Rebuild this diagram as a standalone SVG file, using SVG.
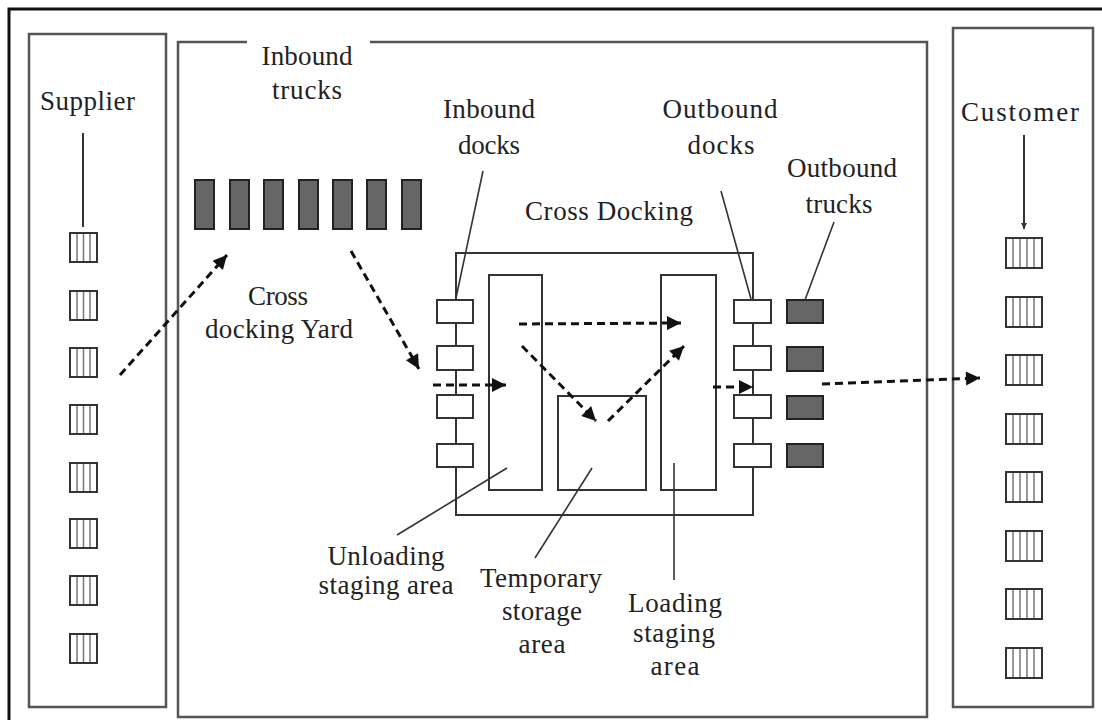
<svg xmlns="http://www.w3.org/2000/svg" width="1102" height="720" viewBox="0 0 1102 720">
<style>
.frame{fill:none;stroke:#111;stroke-width:3}
.big{fill:none;stroke:#555;stroke-width:2.5}
.lbl{font-family:"Liberation Serif","Times New Roman",serif;font-size:27px;fill:#222;text-anchor:middle}
.pkg{fill:#fff;stroke:#333;stroke-width:2}
.pin{stroke:#777;stroke-width:1.5}
.truck{fill:#666;stroke:#222;stroke-width:2}
.box{fill:#fff;stroke:#333;stroke-width:2}
.lead{fill:none;stroke:#333;stroke-width:1.6}
.flow{fill:none;stroke:#111;stroke-width:3;stroke-dasharray:8 5}
</style>
<defs>
<marker id="ah" viewBox="0 0 10 10" refX="10" refY="5" markerWidth="16" markerHeight="14" markerUnits="userSpaceOnUse" orient="auto"><path d="M0,0 L10,5 L0,10 z" fill="#111"/></marker>
<marker id="ahs" viewBox="0 0 10 10" refX="10" refY="5" markerWidth="7" markerHeight="6" markerUnits="userSpaceOnUse" orient="auto"><path d="M0,0 L10,5 L0,10 z" fill="#333"/></marker>
<g id="spkg"><rect class="pkg" x="0" y="0" width="27" height="29"/><line class="pin" x1="7" y1="1" x2="7" y2="28"/><line class="pin" x1="13.5" y1="1" x2="13.5" y2="28"/><line class="pin" x1="20" y1="1" x2="20" y2="28"/></g>
<g id="cpkg"><rect class="pkg" x="0" y="0" width="36" height="30"/><line class="pin" x1="7" y1="1" x2="7" y2="29"/><line class="pin" x1="14" y1="1" x2="14" y2="29"/><line class="pin" x1="21" y1="1" x2="21" y2="29"/><line class="pin" x1="28" y1="1" x2="28" y2="29"/></g>
</defs>
<rect width="1102" height="720" fill="#fff"/>
<path class="frame" d="M9,720 V9 H1102"/>

<g id="supplier">
<rect class="big" x="29" y="34" width="137" height="673"/>
<text class="lbl" x="87.5" y="110" textLength="95">Supplier</text>
<line x1="83" y1="133" x2="83" y2="227" stroke="#333" stroke-width="2"/>
<use href="#spkg" x="70" y="233"/>
<use href="#spkg" x="70" y="291"/>
<use href="#spkg" x="70" y="348"/>
<use href="#spkg" x="70" y="405"/>
<use href="#spkg" x="70" y="463"/>
<use href="#spkg" x="70" y="519"/>
<use href="#spkg" x="70" y="576"/>
<use href="#spkg" x="70" y="634"/>
</g>

<g id="yard">
<path class="big" d="M247,42 H178 V717 H927 V42 H370"/>
<text class="lbl" x="307" y="65" textLength="91">Inbound</text>
<text class="lbl" x="307" y="99" textLength="70">trucks</text>
<text class="lbl" x="278" y="305" textLength="60">Cross</text>
<text class="lbl" x="279" y="338" textLength="148">docking Yard</text>
</g>

<g id="inbound-trucks">
<rect class="truck" x="195" y="180" width="19" height="49"/>
<rect class="truck" x="230" y="180" width="19" height="49"/>
<rect class="truck" x="264" y="180" width="19" height="49"/>
<rect class="truck" x="299" y="180" width="19" height="49"/>
<rect class="truck" x="333" y="180" width="19" height="49"/>
<rect class="truck" x="367" y="180" width="19" height="49"/>
<rect class="truck" x="402" y="180" width="19" height="49"/>
</g>

<g id="cross-docking">
<rect class="box" x="456" y="253" width="297" height="262"/>
<text class="lbl" x="609" y="220" textLength="168">Cross Docking</text>
</g>

<g id="inbound-docks">
<rect class="box" x="437" y="300" width="36" height="23"/>
<rect class="box" x="437" y="346" width="36" height="24"/>
<rect class="box" x="437" y="395" width="36" height="23"/>
<rect class="box" x="437" y="444" width="36" height="23"/>
<text class="lbl" x="489" y="118" textLength="92">Inbound</text>
<text class="lbl" x="489" y="154" textLength="62">docks</text>
</g>

<g id="outbound-docks">
<rect class="box" x="734" y="300" width="37" height="23"/>
<rect class="box" x="734" y="346" width="37" height="24"/>
<rect class="box" x="734" y="395" width="37" height="23"/>
<rect class="box" x="734" y="444" width="37" height="23"/>
<text class="lbl" x="720" y="118" textLength="115">Outbound</text>
<text class="lbl" x="721" y="154" textLength="67">docks</text>
</g>

<g id="outbound-trucks">
<rect class="truck" x="787" y="300" width="36" height="23"/>
<rect class="truck" x="787" y="347" width="36" height="24"/>
<rect class="truck" x="787" y="396" width="36" height="23"/>
<rect class="truck" x="787" y="444" width="36" height="23"/>
<text class="lbl" x="842" y="177" textLength="110">Outbound</text>
<text class="lbl" x="839" y="213" textLength="67">trucks</text>
</g>

<g id="unloading-area">
<rect class="box" x="489" y="275" width="53" height="215"/>
<text class="lbl" x="386" y="565" textLength="117">Unloading</text>
<text class="lbl" x="386" y="594" textLength="135">staging area</text>
</g>

<g id="temporary-storage">
<rect class="box" x="558" y="396" width="88" height="94"/>
<text class="lbl" x="541" y="587" textLength="122">Temporary</text>
<text class="lbl" x="542" y="620" textLength="80">storage</text>
<text class="lbl" x="542" y="653" textLength="47">area</text>
</g>

<g id="loading-area">
<rect class="box" x="661" y="275" width="55" height="215"/>
<text class="lbl" x="675" y="612" textLength="94">Loading</text>
<text class="lbl" x="674" y="642" textLength="82">staging</text>
<text class="lbl" x="675" y="675" textLength="49">area</text>
</g>

<g id="customer">
<rect class="big" x="953" y="28" width="140" height="679"/>
<text class="lbl" x="1020" y="121" textLength="118">Customer</text>
<use href="#cpkg" x="1006" y="238"/>
<use href="#cpkg" x="1006" y="297"/>
<use href="#cpkg" x="1006" y="355"/>
<use href="#cpkg" x="1006" y="414"/>
<use href="#cpkg" x="1006" y="472"/>
<use href="#cpkg" x="1006" y="531"/>
<use href="#cpkg" x="1006" y="589"/>
<use href="#cpkg" x="1006" y="648"/>
</g>

<g id="connectors">
<line class="lead" x1="483" y1="171" x2="456" y2="298"/>
<line class="lead" x1="721" y1="191" x2="751" y2="299"/>
<line class="lead" x1="834" y1="222" x2="805" y2="300"/>
<line class="lead" x1="507" y1="468" x2="397" y2="535"/>
<line class="lead" x1="592" y1="468" x2="535" y2="558"/>
<line class="lead" x1="674" y1="463" x2="674" y2="580" stroke-width="2"/>
<line x1="1024" y1="135" x2="1024" y2="229" stroke="#333" stroke-width="2" marker-end="url(#ahs)"/>
<line class="flow" x1="120" y1="375" x2="227" y2="255" marker-end="url(#ah)"/>
<line class="flow" x1="351" y1="251" x2="419" y2="369" marker-end="url(#ah)"/>
<line class="flow" x1="433" y1="385" x2="506" y2="385" marker-end="url(#ah)"/>
<line class="flow" x1="519" y1="324" x2="681" y2="323" marker-end="url(#ah)"/>
<line class="flow" x1="522" y1="346" x2="596" y2="421" marker-end="url(#ah)"/>
<line class="flow" x1="608" y1="421" x2="684" y2="346" marker-end="url(#ah)"/>
<line class="flow" x1="713" y1="387" x2="753" y2="387" marker-end="url(#ah)"/>
<line class="flow" x1="822" y1="384" x2="980" y2="378" marker-end="url(#ah)"/>
</g>
</svg>
